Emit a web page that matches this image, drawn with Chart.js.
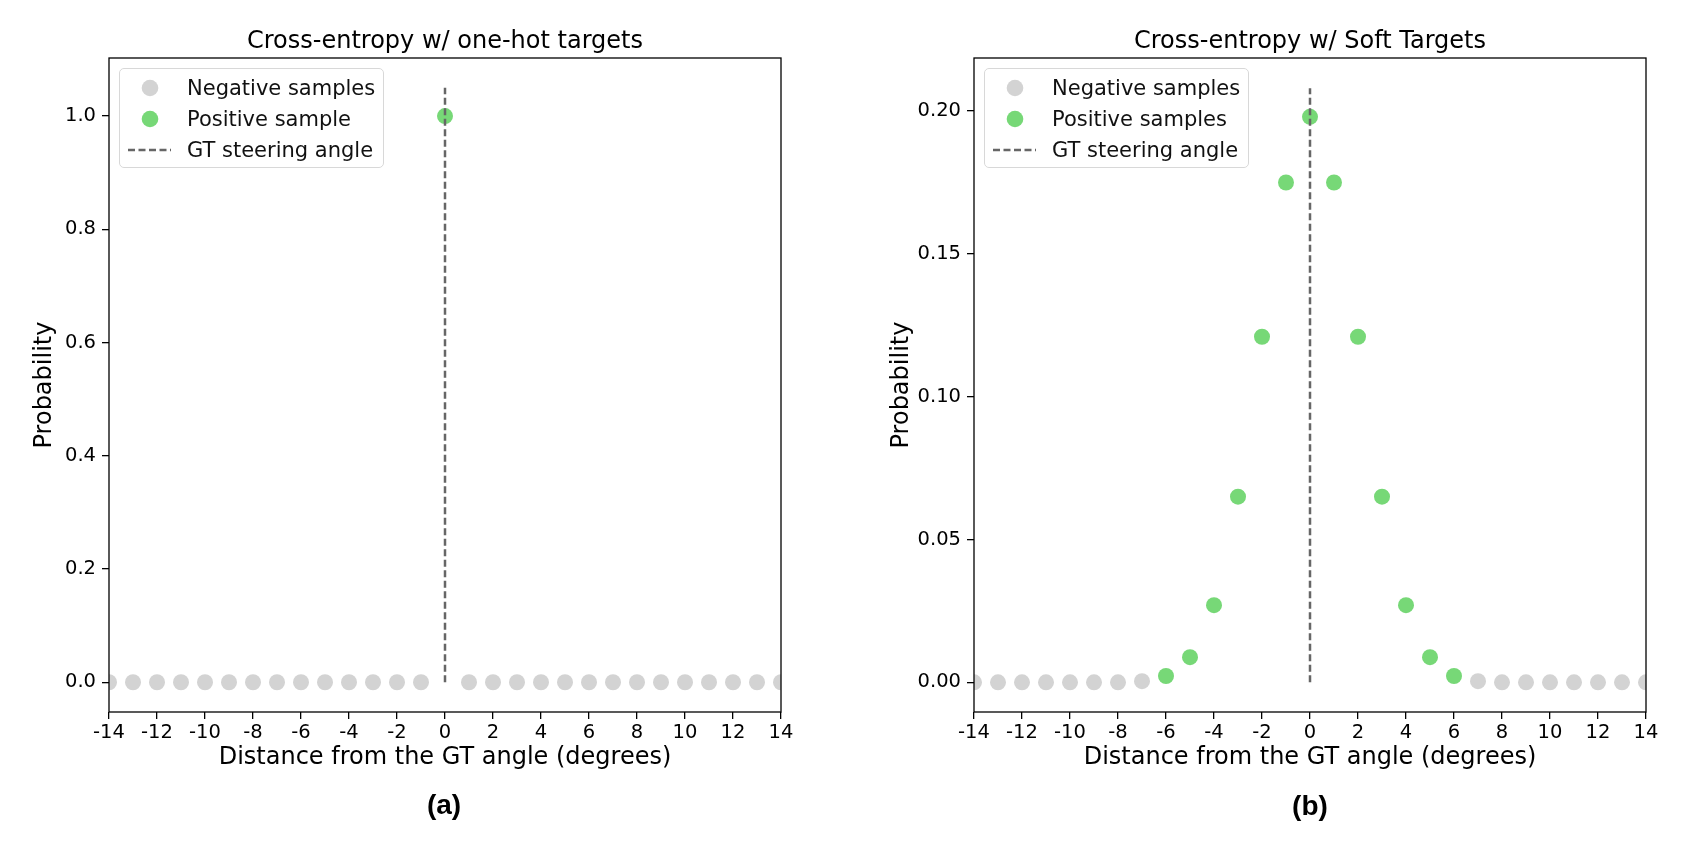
<!DOCTYPE html>
<html>
<head>
<meta charset="utf-8">
<script src="https://cdn.jsdelivr.net/npm/chart.js@4.4.0/dist/chart.umd.min.js"></script>
<style>
html,body{margin:0;padding:0;background:#fff;}
#root{position:relative;width:1688px;height:842px;overflow:hidden;background:#fff;font-family:"DejaVu Sans",sans-serif;color:#000;}
.panel{position:absolute;top:0;width:844px;height:842px;}
.panel canvas{position:absolute;left:0;top:0;}
.title{position:absolute;font-size:24px;line-height:28px;white-space:nowrap;transform:translate(-50%,-50%);}
.tag{position:absolute;font-family:"Liberation Sans",Arial,sans-serif;font-weight:bold;font-size:28px;line-height:32px;transform:translate(-50%,-50%);}
.legend{position:absolute;border:1px solid #d8d8d8;border-radius:5px;background:rgba(255,255,255,0.8);box-sizing:border-box;}
.legend .row{position:absolute;left:0;right:0;height:30px;}
.legend .txt{position:absolute;left:67px;top:0;line-height:30px;font-size:21px;color:#111;white-space:nowrap;}
.legend svg{position:absolute;left:0;top:0;}
</style>
</head>
<body>
<div id="root">
  <div class="panel" style="left:0"><canvas id="cA" width="844" height="842"></canvas></div>
  <div class="panel" style="left:844px"><canvas id="cB" width="844" height="842"></canvas></div>
  <div class="title" style="left:445px;top:40px">Cross-entropy w/ one-hot targets</div>
  <div class="title" style="left:1310px;top:40px">Cross-entropy w/ Soft Targets</div>
  <div class="tag" style="left:444px;top:805px">(a)</div>
  <div class="tag" style="left:1310px;top:806px">(b)</div>
  <div class="legend" id="legA" style="left:119px;top:68px;width:265px;height:100px"></div>
  <div class="legend" id="legB" style="left:984px;top:68px;width:265px;height:100px"></div>
</div>
<script>
// ---------- data ----------
const xTicks = [-14,-12,-10,-8,-6,-4,-2,0,2,4,6,8,10,12,14];

// panel (a): one-hot targets
const negXA = [-14,-13,-12,-11,-10,-9,-8,-7,-6,-5,-4,-3,-2,-1,1,2,3,4,5,6,7,8,9,10,11,12,13,14];
const negYA = [0,0,0,0,0,0,0,0,0,0,0,0,0,0,0,0,0,0,0,0,0,0,0,0,0,0,0,0];
const posXA = [0];
const posYA = [1.0];
const gtYA = [0, 1.05];
const yTicksA = [0, 0.2, 0.4, 0.6, 0.8, 1.0];
const yTickLabelsA = ['0.0','0.2','0.4','0.6','0.8','1.0'];

// panel (b): soft targets
const negXB = [-14,-13,-12,-11,-10,-9,-8,-7,7,8,9,10,11,12,13,14];
const negYB = [0,0,0,0,0,0,0,0.0004,0.0004,0,0,0,0,0,0,0];
const posXB = [-6,-5,-4,-3,-2,-1,0,1,2,3,4,5,6];
const posYB = [0.0022,0.0088,0.027,0.065,0.121,0.175,0.198,0.175,0.121,0.065,0.027,0.0088,0.0022];
const gtYB = [0, 0.208];
const yTicksB = [0, 0.05, 0.10, 0.15, 0.20];
const yTickLabelsB = ['0.00','0.05','0.10','0.15','0.20'];

// ---------- style ----------
const FONT = '"DejaVu Sans", sans-serif';
const GRAY = '#d3d3d3';
const GREEN = '#77d877';
const DASH = '#666666';

const framePlugin = {
  id: 'frame',
  afterDatasetsDraw(chart) {
    const {ctx, chartArea: a} = chart;
    ctx.save();
    ctx.strokeStyle = '#000';
    ctx.lineWidth = 1.3;
    ctx.strokeRect(a.left, a.top, a.right - a.left, a.bottom - a.top);
    ctx.restore();
  }
};

function pts(xs, ys) { return xs.map((x, i) => ({x: x, y: ys[i]})); }

function makeChart(id, o) {
  return new Chart(document.getElementById(id), {
    type: 'scatter',
    data: {
      datasets: [
        {label: 'Negative samples', data: pts(o.negX, o.negY), backgroundColor: GRAY,
         pointRadius: 8, pointHoverRadius: 8, pointBorderWidth: 0, borderWidth: 0, order: 2, clip: 0},
        {label: o.posLabel, data: pts(o.posX, o.posY), backgroundColor: GREEN,
         pointRadius: 8, pointHoverRadius: 8, pointBorderWidth: 0, borderWidth: 0, order: 1, clip: 0},
        {label: 'GT steering angle', data: pts([0, 0], o.gtY), showLine: true, borderColor: DASH,
         backgroundColor: DASH, borderWidth: 2.5, borderDash: [7, 3.5], pointRadius: 0, pointHoverRadius: 0,
         order: 0, clip: 0, fill: false}
      ]
    },
    options: {
      responsive: false,
      animation: false,
      devicePixelRatio: 1,
      events: [],
      layout: {padding: {top: 58, left: 0, right: o.padRight, bottom: 70}},
      plugins: {legend: {display: false}, title: {display: false}, tooltip: {enabled: false}},
      scales: {
        x: {
          type: 'linear', min: -14, max: 14,
          afterFit(s) { s.height = 60; },
          afterBuildTicks(s) { s.ticks = xTicks.map(v => ({value: v})); },
          ticks: {font: {family: FONT, size: 19.5}, color: '#000', padding: 2, maxRotation: 0, autoSkip: false,
                  callback: (v) => String(v)},
          grid: {drawOnChartArea: false, drawTicks: true, tickLength: 7, tickColor: '#000', lineWidth: 1.3},
          border: {display: false},
          title: {display: true, text: 'Distance from the GT angle (degrees)', color: '#000',
                  font: {family: FONT, size: 24}, padding: {top: 0, bottom: 0}}
        },
        y: {
          type: 'linear', min: o.yMin, max: o.yMax,
          afterFit(s) { s.width = o.yWidth; },
          afterBuildTicks(s) { s.ticks = o.yTicks.map(v => ({value: v})); },
          ticks: {font: {family: FONT, size: 19.5}, color: '#000', padding: 6,
                  callback: (v) => { const i = o.yTicks.findIndex(t => Math.abs(t - v) < 1e-9); return i >= 0 ? o.yLabels[i] : ''; }},
          grid: {drawOnChartArea: false, drawTicks: true, tickLength: 7, tickColor: '#000', lineWidth: 1.3},
          border: {display: false},
          title: {display: true, text: 'Probability', color: '#000',
                  font: {family: FONT, size: 24}, padding: {top: o.yTitlePad, bottom: 0}}
        }
      }
    },
    plugins: [framePlugin]
  });
}

function buildLegend(chart, boxId) {
  const box = document.getElementById(boxId);
  const rowsY = [3.5, 34.5, 65.5];
  chart.data.datasets.forEach((ds, i) => {
    const row = document.createElement('div');
    row.className = 'row';
    row.style.top = rowsY[i] + 'px';
    let svg;
    if (ds.showLine) {
      svg = '<svg width="60" height="30"><line x1="8" y1="15" x2="51" y2="15" stroke="' + ds.borderColor +
            '" stroke-width="2.5" stroke-dasharray="7 3.5"/></svg>';
    } else {
      svg = '<svg width="60" height="30"><circle cx="30" cy="15" r="8.3" fill="' + ds.backgroundColor + '"/></svg>';
    }
    row.innerHTML = svg + '<span class="txt"></span>';
    row.querySelector('.txt').textContent = ds.label;
    box.appendChild(row);
  });
}

const chartA = makeChart('cA', {
  negX: negXA, negY: negYA, posX: posXA, posY: posYA, gtY: gtYA, posLabel: 'Positive sample',
  yMin: -0.0525, yMax: 1.1025, yTicks: yTicksA, yLabels: yTickLabelsA,
  yWidth: 109, padRight: 63, yTitlePad: 30
});
const chartB = makeChart('cB', {
  negX: negXB, negY: negYB, posX: posXB, posY: posYB, gtY: gtYB, posLabel: 'Positive samples',
  yMin: -0.0104, yMax: 0.2186, yTicks: yTicksB, yLabels: yTickLabelsB,
  yWidth: 130, padRight: 42, yTitlePad: 43
});
buildLegend(chartA, 'legA');
buildLegend(chartB, 'legB');
</script>
</body>
</html>
